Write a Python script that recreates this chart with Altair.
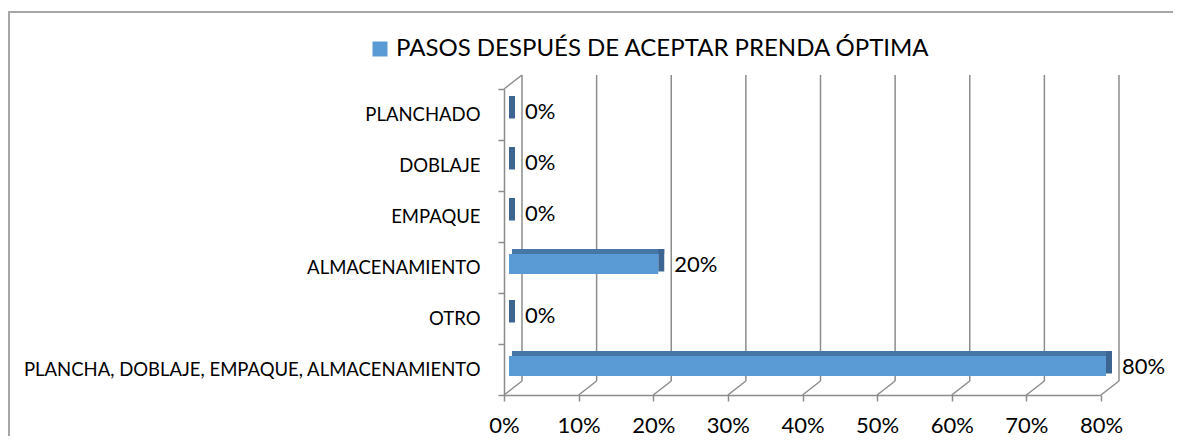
import altair as alt
import pandas as pd

categories = ["PLANCHADO", "DOBLAJE", "EMPAQUE", "ALMACENAMIENTO", "OTRO",
              "PLANCHA, DOBLAJE, EMPAQUE, ALMACENAMIENTO"]
values = [0.0, 0.0, 0.0, 0.20, 0.0, 0.80]
series_name = "PASOS DESPUÉS DE ACEPTAR PRENDA ÓPTIMA"
tick_values = [0.0, 0.1, 0.2, 0.3, 0.4, 0.5, 0.6, 0.7, 0.8]

FONT = "Lato"
GRID = "#8C8C8C"

df = pd.DataFrame({"cat": categories, "val": values,
                   "zero": [0.0] * len(values),
                   "series": [series_name] * len(values)})
ticks = pd.DataFrame({"t": tick_values})

xscale = alt.Scale(domain=[0, 0.8], nice=False, zero=True)
yscale = alt.Scale(domain=categories, paddingInner=0, paddingOuter=0)

x_axis = alt.Axis(format=".0%", values=tick_values, grid=False, domainColor=GRID,
                  domainWidth=1.5, tickColor=GRID, tickWidth=1.5, tickSize=6,
                  labelFont=FONT, labelFontSize=22, labelColor="#000000",
                  labelPadding=14, labelFlush=False, title=None)
y_axis = alt.Axis(grid=False, domainColor=GRID, domainWidth=1.5, tickColor=GRID,
                  tickWidth=1.5, tickSize=6, tickBand="extent", labelFont=FONT,
                  labelFontSize=18.5, labelColor="#000000", labelPadding=18,
                  labelLimit=600, title=None)

# back wall gridlines
back_grid = alt.Chart(ticks).mark_rule(color=GRID, strokeWidth=1.5, xOffset=18).encode(
    x=alt.X("t:Q", scale=xscale, axis=x_axis),
    y=alt.value(-14), y2=alt.value(292))

# floor diagonals
floor_diag = alt.Chart(ticks).mark_rule(color=GRID, strokeWidth=1.5, xOffset=0, x2Offset=18).encode(
    x=alt.X("t:Q", scale=xscale), x2="t:Q",
    y=alt.value(306), y2=alt.value(292))

# top-left wall diagonal
wall_top = alt.Chart(ticks[ticks.t == 0]).mark_rule(color=GRID, strokeWidth=1.5, xOffset=0, x2Offset=18).encode(
    x=alt.X("t:Q", scale=xscale), x2="t:Q",
    y=alt.value(0), y2=alt.value(-14))

# chart frame (left and top border)
frame_left = alt.Chart(ticks[ticks.t == 0]).mark_rule(color="#A6A6A6", strokeWidth=2).encode(
    x=alt.value(-495), y=alt.value(-77), y2=alt.value(400))
frame_top = alt.Chart(ticks[ticks.t == 0]).mark_rule(color="#A6A6A6", strokeWidth=2).encode(
    x=alt.value(-496), x2=alt.value(669), y=alt.value(-77))

# bar top face
top_face = alt.Chart(df).mark_bar(color="#4676A6", size=5, yOffset=-16, xOffset=8, x2Offset=11).encode(
    y=alt.Y("cat:N", scale=yscale, sort=categories, axis=y_axis),
    x=alt.X("zero:Q", scale=xscale), x2="val:Q")

# bar side face
side_face = alt.Chart(df).mark_bar(color="#3C6591", size=22.5, yOffset=-7.25, xOffset=5, x2Offset=11).encode(
    y=alt.Y("cat:N", scale=yscale, sort=categories),
    x=alt.X("val:Q", scale=xscale), x2="val:Q")

# bar front face
front_face = alt.Chart(df).mark_bar(size=20, yOffset=-3.5, xOffset=5, x2Offset=5).encode(
    y=alt.Y("cat:N", scale=yscale, sort=categories),
    x=alt.X("zero:Q", scale=xscale), x2="val:Q",
    color=alt.Color("series:N",
                    scale=alt.Scale(domain=[series_name], range=["#5B9BD5"]),
                    legend=alt.Legend(orient="none", legendX=-136, legendY=-52, title=None,
                                      symbolType="square", symbolSize=225,
                                      symbolStrokeWidth=0, labelFont=FONT,
                                      labelFontSize=24, labelColor="#000000",
                                      labelOffset=4, padding=0, labelLimit=800)))

labels = alt.Chart(df).mark_text(align="left", baseline="middle", dx=21, dy=-3,
                                 font=FONT, fontSize=22, color="#000000").encode(
    y=alt.Y("cat:N", scale=yscale, sort=categories),
    x=alt.X("val:Q", scale=xscale),
    text=alt.Text("val:Q", format=".0%"))

chart = alt.layer(frame_left, frame_top, back_grid, floor_diag, wall_top,
                  top_face, side_face, front_face, labels).properties(
    width=597, height=306,
    autosize=alt.AutoSizeParams(type="none"),
    padding={"left": 496, "top": 81, "right": 72, "bottom": 41},
    background="white",
).configure_view(strokeWidth=0)

chart.save("out.html", embed_options={"renderer": "svg", "actions": False})
